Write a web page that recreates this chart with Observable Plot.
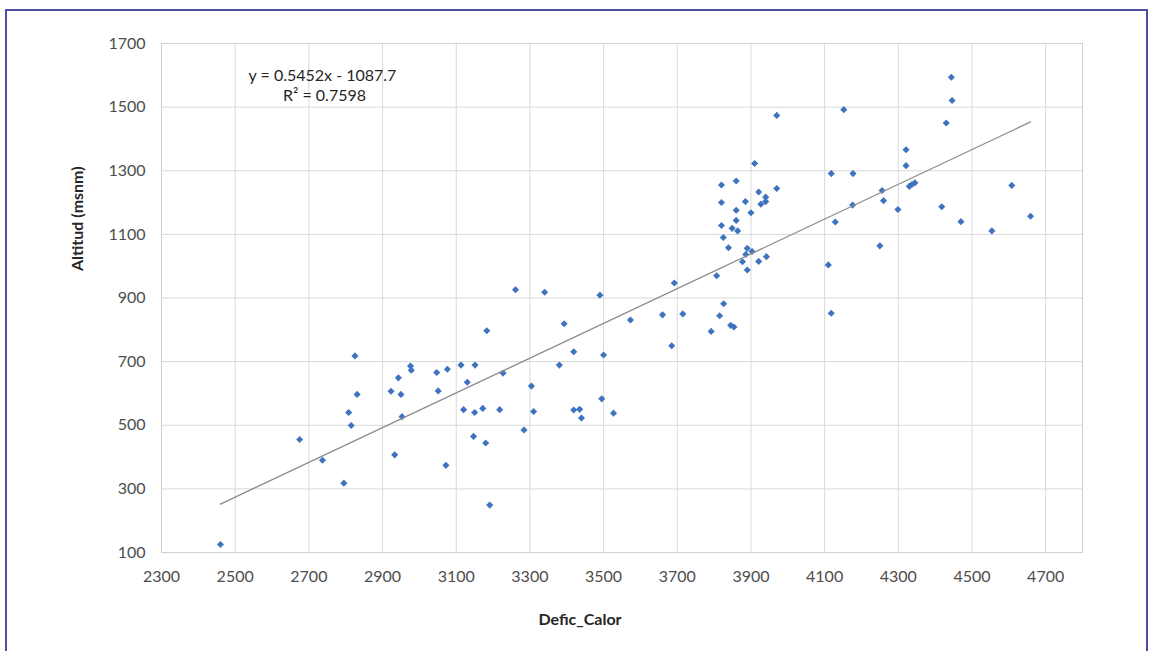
<!DOCTYPE html>
<html>
<head>
<meta charset="utf-8">
<script src="https://cdn.jsdelivr.net/npm/d3@7"></script>
<script src="https://cdn.jsdelivr.net/npm/@observablehq/plot@0.6"></script>
<style>
  html, body { margin: 0; padding: 0; background: #fff; overflow: hidden; }
  #wrap { position: relative; width: 1158px; height: 651px; }
  #border { position: absolute; left: 5px; top: 9px; width: 1143px; height: 700px; border: 2px solid #4d4da3; box-sizing: border-box; pointer-events: none; }
  #chart { position: absolute; left: 0; top: 0; }
</style>
</head>
<body>
<div id="wrap"><div id="chart"></div><div id="border"></div></div>
<script>
const deficCalor = [2460,2675,2737,2795,2808,2815,2825,2831,2923,2933,2943,2950,2953,2976,2978,3047,3051,3072,3076,3113,3120,3130,3147,3151,3150,3172,3180,3183,3191,3218,3227,3261,3284,3304,3310,3340,3380,3393,3419,3419,3435,3440,3490,3495,3500,3527,3573,3660,3692,3685,3715,3792,3807,3815,3820,3820,3820,3825,3826,3839,3845,3854,3860,3860,3860,3849,3864,3877,3886,3885,3890,3890,3900,3903,3910,3921,3921,3927,3940,3942,3940,3970,3970,4110,4118,4118,4129,4152,4176,4177,4250,4256,4260,4299,4321,4321,4330,4337,4345,4418,4430,4446,4444,4470,4554,4608,4659];
const altitud = [125,455,390,318,540,499,718,597,607,407,649,597,527,686,673,666,608,374,676,689,549,635,465,689,540,553,444,797,249,549,664,926,485,623,543,918,689,819,731,548,550,523,909,583,721,538,831,847,947,750,850,795,970,844,1255,1200,1128,1090,882,1058,814,809,1268,1176,1144,1119,1111,1014,1037,1203,1056,988,1168,1046,1323,1015,1233,1195,1217,1030,1203,1244,1474,1004,1291,852,1139,1492,1192,1291,1064,1238,1206,1178,1366,1316,1251,1257,1262,1187,1450,1521,1594,1140,1111,1254,1157];
const xTicks = [2300,2500,2700,2900,3100,3300,3500,3700,3900,4100,4300,4500,4700];
const yTicks = [100,300,500,700,900,1100,1300,1500,1700];
const xLabel = "Defic_Calor";
const yLabel = "Altitud (msnm)";
const equationLines = ["y = 0.5452x - 1087.7", "R² = 0.7598"];

const data = deficCalor.map((x, i) => ({x, y: altitud[i]}));

const chart = Plot.plot({
  width: 1158,
  height: 651,
  marginLeft: 161,
  marginRight: 76,
  marginTop: 43,
  marginBottom: 99,
  style: {fontFamily: "Lato, sans-serif", fontSize: "16px", color: "#4d4d4d", background: "transparent"},
  x: {domain: [2300, 4800], ticks: xTicks, tickSize: 0, tickPadding: 18, label: null, tickFormat: d => String(d)},
  y: {domain: [100, 1700], ticks: yTicks, tickSize: 0, tickPadding: 16, label: null, tickFormat: d => String(d)},
  marks: [
    Plot.gridX(xTicks, {stroke: "#d9d9d9", strokeOpacity: 1}),
    Plot.gridY(yTicks, {stroke: "#d9d9d9", strokeOpacity: 1}),
    Plot.frame({stroke: "#d0d0d0"}),
    Plot.axisX({ticks: xTicks, tickSize: 0, tickPadding: 18, label: null, tickFormat: d => String(d), fill: "#4d4d4d"}),
    Plot.axisY({ticks: yTicks, tickSize: 0, tickPadding: 16, label: null, tickFormat: d => String(d), fill: "#4d4d4d"}),
    Plot.dot(data, {x: "x", y: "y", symbol: "diamond2", r: 3.2, fill: "#3f73bf", stroke: "none"}),
    Plot.linearRegressionY(data, {x: "x", y: "y", ci: 0, stroke: "#8c8c8c", strokeWidth: 1.3}),
    Plot.text([equationLines[0]], {frameAnchor: "top-left", dx: 161, dy: 26, text: d => d, fill: "#262626", fontSize: 16, textAnchor: "middle"}),
    Plot.text([equationLines[1]], {frameAnchor: "top-left", dx: 163, dy: 46, text: d => d, fill: "#262626", fontSize: 16, textAnchor: "middle"}),
    Plot.text([xLabel], {frameAnchor: "bottom", dx: -42, dy: 72, text: d => d, fill: "#262626", fontWeight: "bold", fontSize: 16}),
    Plot.text([yLabel], {frameAnchor: "left", dx: -84, dy: -27, rotate: -90, text: d => d, fill: "#262626", fontWeight: "bold", fontSize: 16})
  ]
});
document.getElementById("chart").appendChild(chart);
</script>
</body>
</html>
